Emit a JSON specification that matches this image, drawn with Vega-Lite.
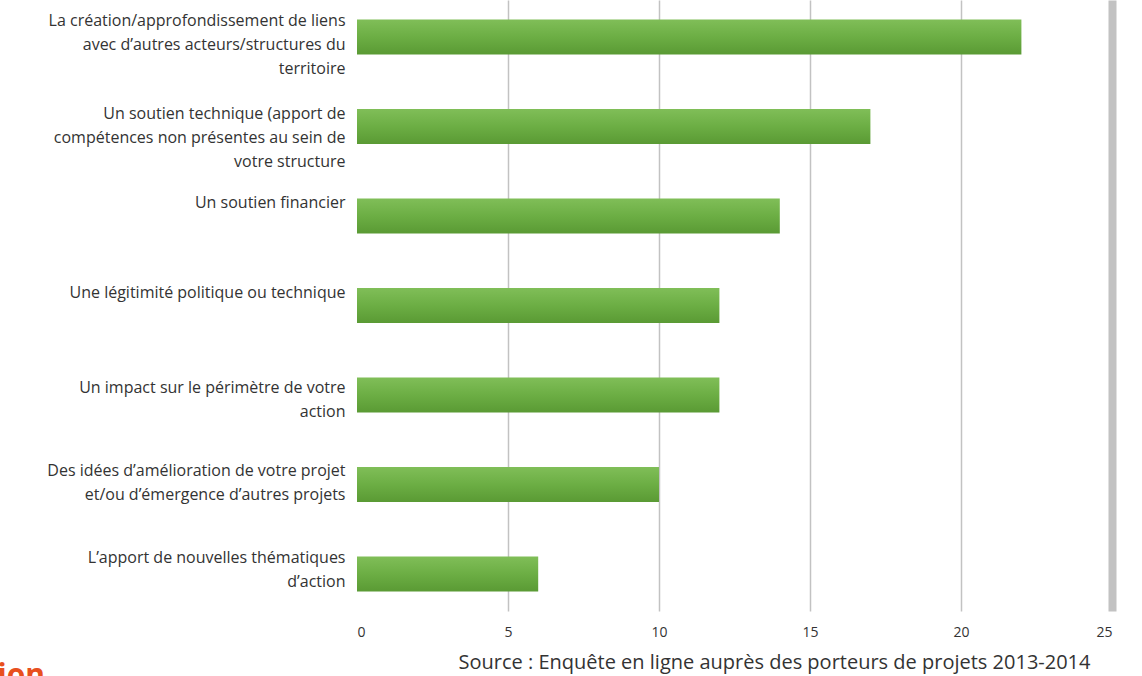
{
  "$schema": "https://vega.github.io/schema/vega-lite/v6.json",
  "width": 755,
  "height": 611,
  "autosize": {"type": "none"},
  "padding": {"left": 357, "top": 0, "right": 30, "bottom": 65},
  "background": "#ffffff",
  "config": {"view": {"stroke": null}, "font": "Open Sans"},
  "data": {
    "values": [
      {"label": "La création/approfondissement de liens|avec d’autres acteurs/structures du|territoire", "value": 22},
      {"label": "Un soutien technique (apport de|compétences non présentes au sein de|votre structure", "value": 17},
      {"label": "Un soutien financier", "value": 14},
      {"label": "Une légitimité politique ou technique", "value": 12},
      {"label": "Un impact sur le périmètre de votre|action", "value": 12},
      {"label": "Des idées d’amélioration de votre projet|et/ou d’émergence d’autres projets", "value": 10},
      {"label": "L’apport de nouvelles thématiques|d’action", "value": 6}
    ]
  },
  "mark": {
    "type": "bar",
    "color": {
      "gradient": "linear", "x1": 0, "y1": 0, "x2": 0, "y2": 1,
      "stops": [
        {"offset": 0, "color": "#80be58"},
        {"offset": 0.5, "color": "#6cae44"},
        {"offset": 1, "color": "#5a9a34"}
      ]
    }
  },
  "encoding": {
    "y": {
      "field": "label",
      "type": "nominal",
      "sort": null,
      "scale": {"paddingInner": 0.609, "paddingOuter": 0.218},
      "axis": {
        "title": "ion",
        "titleAngle": 0,
        "titleX": -360,
        "titleY": 684,
        "titleAlign": "left",
        "titleBaseline": "alphabetic",
        "titleFontSize": 30,
        "titleFontWeight": "bold",
        "titleColor": "#e8501e",
        "titleFont": "Open Sans",
        "labelExpr": "split(datum.label, '|')",
        "bandPosition": 0,
        "labelBaseline": "top",
        "labelOffset": {
          "condition": [
            {"test": "indexof(datum.value, 'Un impact') === 0", "value": -15},
            {"test": "indexof(datum.value, 'La création') === 0 || indexof(datum.value, 'L’apport') === 0", "value": -24}
          ],
          "value": -21
        },
        "labelLineHeight": 24,
        "labelFontSize": 16,
        "labelColor": "#333333",
        "labelPadding": 12,
        "labelLimit": 400,
        "ticks": false,
        "domain": false,
        "grid": false
      }
    },
    "x": {
      "field": "value",
      "type": "quantitative",
      "scale": {"domain": [0, 25], "nice": false},
      "axis": {
        "values": [0, 5, 10, 15, 20, 25],
        "title": "Source : Enquête en ligne auprès des porteurs de projets 2013-2014",
        "titleX": 733,
        "titleY": 57,
        "titleAlign": "right",
        "titleBaseline": "alphabetic",
        "titleFontSize": 20,
        "titleFontWeight": "normal",
        "titleColor": "#333333",
        "labelFontSize": 14,
        "labelColor": "#333333",
        "labelPadding": 14,
        "ticks": false,
        "domain": false,
        "grid": true,
        "gridColor": {"condition": {"test": "datum.value === 0", "value": "transparent"}, "value": "#c2c2c2"},
        "gridWidth": {"condition": {"test": "datum.value === 25", "value": 8}, "value": 1.5}
      }
    }
  }
}
